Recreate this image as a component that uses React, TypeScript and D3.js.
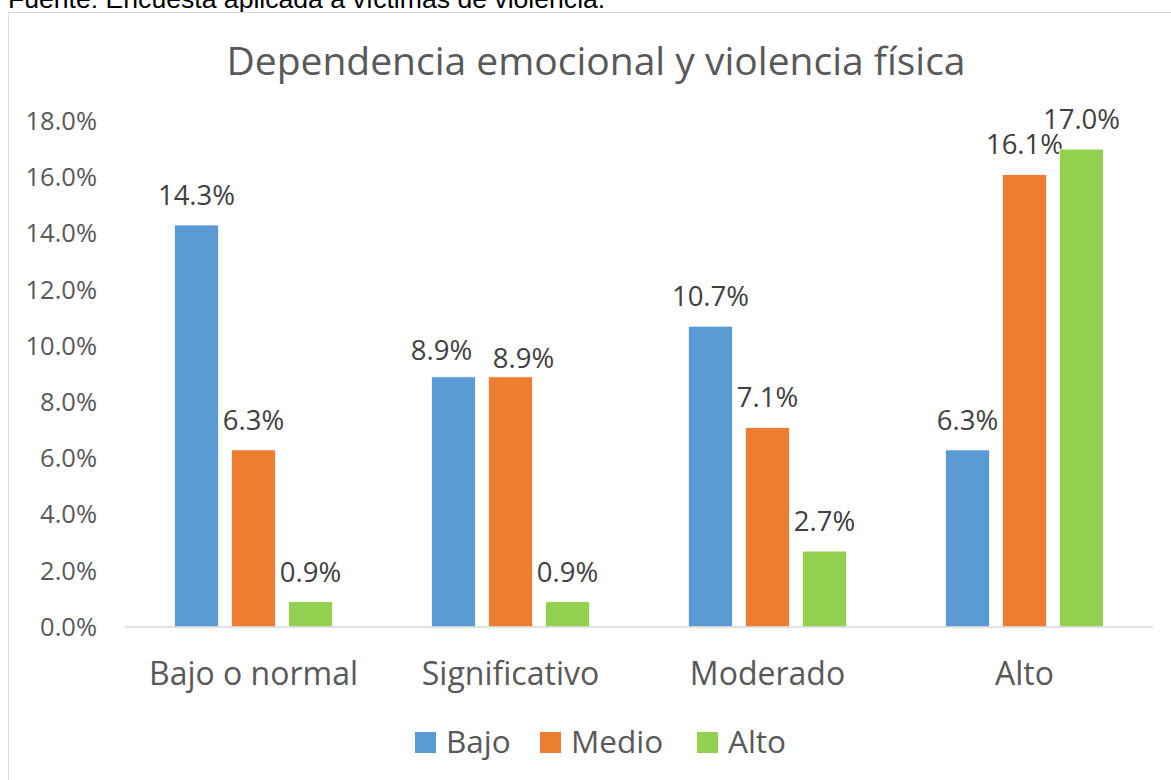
import * as d3 from "d3";

const categories = ["Bajo o normal", "Significativo", "Moderado", "Alto"];
const series = ["Bajo", "Medio", "Alto"];
const bajo = [0.143, 0.089, 0.107, 0.063];
const medio = [0.063, 0.089, 0.071, 0.161];
const alto = [0.009, 0.009, 0.027, 0.17];
const yTicks = [0, 0.02, 0.04, 0.06, 0.08, 0.1, 0.12, 0.14, 0.16, 0.18];

const colors = ["#5B9BD5", "#ED7D31", "#92D050"];
const values = [bajo, medio, alto];

// labels Excel pushed aside to avoid overlap
const nudges: Record<string, [number, number]> = {
  "Significativo|Bajo": [-12, 3],
  "Significativo|Medio": [13, 11],
};

const W = 1171;
const H = 780;
const font = "'Open Sans', sans-serif";

export default function App() {
  const x0 = d3.scaleBand<string>().domain(categories).range([125, 1153]).paddingInner(0.385).paddingOuter(0.1925);
  const x1 = d3.scaleBand<string>().domain(series).range([0, x0.bandwidth()]).paddingInner(0.228);
  const y = d3.scaleLinear().domain([0, 0.18]).range([627, 121]);
  const fmt = d3.format(".1%");
  const legendX = [415, 540, 697];

  return (
    <svg width={W} height={H} style={{ position: "absolute", left: 0, top: 0, background: "#fff" }}>
      <text x={8} y={7.5} fontFamily="'Liberation Sans', Arial, sans-serif" fontSize={26.6} fill="#000">
        Fuente: Encuesta aplicada a víctimas de violencia.
      </text>
      <rect x={8.5} y={12.5} width={1300} height={900} fill="#fff" stroke="#d9d9d9" strokeWidth={1} />
      <text x={596} y={75} textAnchor="middle" fontFamily={font} fontSize={39} fill="#595959">
        Dependencia emocional y violencia física
      </text>
      {yTicks.map((t) => (
        <text key={t} x={97} y={y(t)} dy="0.35em" textAnchor="end" fontFamily={font} fontSize={25.5} fill="#595959">
          {fmt(t)}
        </text>
      ))}
      {categories.map((c, ci) => (
        <g key={c} transform={`translate(${x0(c)},0)`}>
          {series.map((s, si) => {
            const v = values[si][ci];
            const bx = x1(s)!;
            const [dx, dy] = nudges[`${c}|${s}`] ?? [0, 0];
            return (
              <g key={s}>
                <rect x={bx} y={y(v)} width={x1.bandwidth()} height={y(0) - y(v)} fill={colors[si]} stroke="#fff" strokeWidth={0.75} />
                <text x={bx + x1.bandwidth() / 2 + dx} y={y(v) - 20 + dy} textAnchor="middle" fontFamily={font} fontSize={27.5} fill="#404040">
                  {fmt(v)}
                </text>
              </g>
            );
          })}
          <text x={x0.bandwidth() / 2} y={685} textAnchor="middle" fontFamily={font} fontSize={32} fill="#595959">
            {c}
          </text>
        </g>
      ))}
      <line x1={125} x2={1153} y1={y(0)} y2={y(0)} stroke="#d9d9d9" strokeWidth={1.5} />
      {series.map((s, i) => (
        <g key={s} transform={`translate(${legendX[i]},0)`}>
          <rect x={0} y={732} width={21} height={21} fill={colors[i]} />
          <text x={31} y={753} fontFamily={font} fontSize={31.5} fill="#595959">
            {s}
          </text>
        </g>
      ))}
    </svg>
  );
}
